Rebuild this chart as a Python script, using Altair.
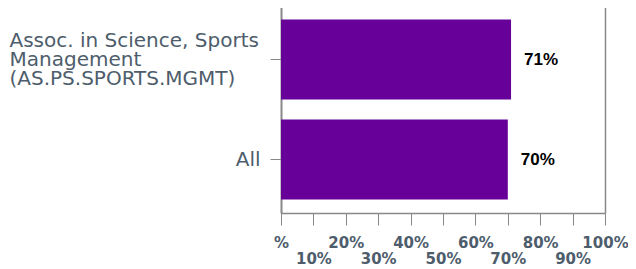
import altair as alt
import pandas as pd

categories = ["Assoc. in Science, Sports Management (AS.PS.SPORTS.MGMT)", "All"]
values = [71, 70]
value_labels = ["71%", "70%"]
x_ticks = list(range(0, 101, 10))
x_ticks_row2 = list(range(10, 100, 20))

df = pd.DataFrame({"cat": categories, "value": values, "label": value_labels})

y_label_expr = (
    "datum.value == 'All' ? 'All' : "
    "['Assoc. in Science, Sports', 'Management', '(AS.PS.SPORTS.MGMT)']"
)
x_label_expr_row1 = "datum.value == 0 ? '%' : (datum.value % 20 == 0 ? datum.value + '%' : '')"
x_label_expr_row2 = "datum.value + '%'"

x_scale = alt.Scale(domain=[0, 100], nice=False)
label_style = dict(
    labelFont="DejaVu Sans",
    labelFontSize=15,
    labelFontWeight="bold",
    labelColor="#4E5D6C",
    labelOverlap=False,
    labelFlush=False,
    labelBound=False,
)

y = alt.Y(
    "cat:N",
    sort=categories,
    title=None,
    scale=alt.Scale(paddingInner=0.2, paddingOuter=0.135),
    axis=alt.Axis(
        labelExpr=y_label_expr,
        labelFont="DejaVu Sans",
        labelFontSize=20,
        labelColor="#4E5D6C",
        labelLineHeight=19,
        labelPadding=alt.condition("datum.value == 'All'", alt.value(10), alt.value(261)),
        labelOffset=alt.condition("datum.value == 'All'", alt.value(0), alt.value(-19)),
        labelLimit=300,
        labelAlign=alt.condition("datum.value == 'All'", alt.value("right"), alt.value("left")),
        tickSize=11,
        tickColor="#888888",
        domainColor="#888888",
        domainWidth=2,
    ),
)

bars = alt.Chart(df).mark_bar(color="#660099").encode(
    x=alt.X(
        "value:Q",
        title=None,
        scale=x_scale,
        axis=alt.Axis(
            orient="bottom",
            values=x_ticks,
            labelExpr=x_label_expr_row1,
            labelPadding=10,
            tickSize=12,
            tickColor="#888888",
            domainColor="#888888",
            domainWidth=1.5,
            grid=True,
            gridColor=alt.condition("datum.value == 100", alt.value("#888888"), alt.value("transparent")),
            gridWidth=1.5,
            **label_style,
        ),
    ),
    y=y,
)

text = alt.Chart(df).mark_text(
    align="left", dx=13, font="Liberation Sans", fontSize=17, fontWeight="bold", color="#000000"
).encode(
    x=alt.X(
        "value:Q",
        title=None,
        scale=x_scale,
        axis=alt.Axis(
            orient="bottom",
            values=x_ticks_row2,
            labelExpr=x_label_expr_row2,
            labelPadding=26,
            tickSize=12,
            tickColor="transparent",
            domain=False,
            grid=False,
            **label_style,
        ),
    ),
    y=alt.Y("cat:N", sort=categories),
    text="label:N",
)

chart = (
    alt.layer(bars, text)
    .resolve_axis(x="independent")
    .properties(
        width=324,
        height=207,
        autosize=alt.AutoSizeParams(type="none"),
        padding={"left": 273, "top": -2, "right": 23, "bottom": 58},
    )
    .configure_view(stroke="#cccccc", strokeWidth=1)
)

chart.save("out.html", embed_options={"renderer": "svg", "actions": False})
